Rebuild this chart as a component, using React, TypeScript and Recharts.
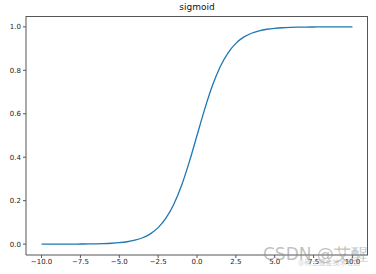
import { LineChart, Line, XAxis, YAxis } from "recharts"

const X_VALUES = [
  -10, -9.5, -9, -8.5, -8, -7.5, -7, -6.5, -6, -5.5, -5, -4.5, -4, -3.5, -3, -2.5, -2, -1.5, -1, -0.5,
  0, 0.5, 1, 1.5, 2, 2.5, 3, 3.5, 4, 4.5, 5, 5.5, 6, 6.5, 7, 7.5, 8, 8.5, 9, 9.5, 10,
]
const SIGMOID_VALUES = [
  0.0, 0.0001, 0.0001, 0.0002, 0.0003, 0.0006, 0.0009, 0.0015, 0.0025, 0.0041, 0.0067, 0.011, 0.018,
  0.0293, 0.0474, 0.0759, 0.1192, 0.1824, 0.2689, 0.3775, 0.5, 0.6225, 0.7311, 0.8176, 0.8808, 0.9241,
  0.9526, 0.9707, 0.982, 0.989, 0.9933, 0.9959, 0.9975, 0.9985, 0.9991, 0.9994, 0.9997, 0.9998, 0.9999,
  0.9999, 1.0,
]
const X_TICKS = [-10, -7.5, -5, -2.5, 0, 2.5, 5, 7.5, 10]
const Y_TICKS = [0, 0.2, 0.4, 0.6, 0.8, 1.0]

const data = X_VALUES.map((x, i) => ({ x, y: SIGMOID_VALUES[i] }))

const fmt = (v: number) => v.toFixed(1).replace("-", "\u2212")
const tickStyle = { fontSize: 7, fill: "#222", fontFamily: "DejaVu Sans" }
const AXIS = "#555"

export default function App() {
  return (
    <div style={{ position: "absolute", left: 0, top: 0, width: 376, height: 274, background: "#fff" }}>
      <div
        style={{
          position: "absolute",
          left: 26,
          width: 342,
          top: 2,
          textAlign: "center",
          fontFamily: "DejaVu Sans",
          fontSize: 9,
          color: "#111",
        }}
      >
        sigmoid
      </div>
      <LineChart width={376} height={274} data={data} margin={{ top: 16, right: 8, bottom: 0, left: 0 }}>
        <XAxis
          dataKey="x"
          type="number"
          domain={[-11, 11]}
          ticks={X_TICKS}
          tickFormatter={fmt}
          tick={tickStyle}
          tickSize={3}
          tickMargin={1}
          height={19}
          stroke={AXIS}
          allowDataOverflow
        />
        <YAxis
          type="number"
          domain={[-0.05, 1.05]}
          ticks={Y_TICKS}
          tickFormatter={fmt}
          tick={tickStyle}
          tickSize={3}
          tickMargin={2}
          width={26}
          stroke={AXIS}
          allowDataOverflow
        />
        <Line
          type="monotone"
          dataKey="y"
          stroke="#1f77b4"
          strokeWidth={1.3}
          dot={false}
          isAnimationActive={false}
        />
      </LineChart>
      {/* plot frame (top/right spines) */}
      <div
        style={{
          position: "absolute",
          left: 26,
          top: 16,
          width: 342,
          height: 239,
          borderTop: `1px solid ${AXIS}`,
          borderRight: `1px solid ${AXIS}`,
          boxSizing: "border-box",
          pointerEvents: "none",
        }}
      />
      <div
        style={{
          position: "absolute",
          left: 263,
          top: 243,
          fontFamily: "DejaVu Sans",
          fontSize: 17,
          color: "rgba(140,140,140,0.55)",
          whiteSpace: "nowrap",
        }}
      >
        CSDN @艾醒
      </div>
      <div
        style={{
          position: "absolute",
          left: 298,
          top: 257,
          fontFamily: "Noto Sans CJK SC",
          fontSize: 7,
          color: "rgba(160,160,160,0.5)",
          whiteSpace: "nowrap",
        }}
      >
        @稀土掘金技术社区
      </div>
    </div>
  )
}
